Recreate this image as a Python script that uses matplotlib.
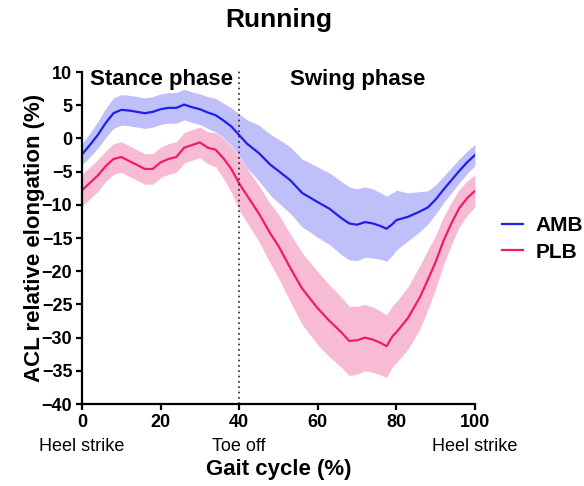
import numpy as np
import matplotlib
matplotlib.use('Agg')
import matplotlib.pyplot as plt

plt.rcParams['font.family'] = ['Liberation Sans', 'DejaVu Sans']

gait = [0, 2, 4, 6, 8, 10, 12, 14, 16, 18, 20, 22, 24, 26, 28, 30, 32, 34, 36, 38,
        40, 42, 45, 48, 50, 53, 56, 60, 63, 66, 68, 70, 72, 74, 76, 77.5, 79, 80,
        83, 86, 88, 90, 92, 94, 96, 98, 100]

# AMB mean and SD
amb_mean = [-2.4, -1.0, 0.5, 2.3, 3.8, 4.3, 4.2, 4.0, 3.8, 4.0, 4.4, 4.6, 4.6, 5.1, 4.7,
            4.4, 3.9, 3.5, 2.7, 1.8, 0.5, -0.8, -2.2, -4.0, -4.9, -6.3, -8.2, -9.6, -10.6,
            -12.0, -12.8, -13.0, -12.6, -12.8, -13.2, -13.6, -12.9, -12.3, -11.8, -11.0,
            -10.4, -9.2, -7.7, -6.3, -4.9, -3.6, -2.5]
amb_sd = [1.6, 1.8, 2.0, 2.2, 2.3, 2.3, 2.3, 2.3, 2.3, 2.3, 2.3, 2.3, 2.3, 2.3, 2.3,
          2.3, 2.4, 2.5, 2.6, 2.8, 3.2, 3.6, 4.2, 4.6, 4.8, 5.0, 5.1, 5.3, 5.4,
          5.5, 5.5, 5.4, 5.3, 5.2, 5.0, 4.9, 4.7, 4.5, 3.6, 3.0,
          2.5, 2.2, 2.0, 1.9, 1.8, 1.7, 1.6]

# PLB mean and SD
plb_mean = [-7.8, -6.7, -5.6, -4.2, -3.1, -2.8, -3.4, -4.0, -4.6, -4.6, -3.6, -3.1, -2.8,
            -1.4, -1.0, -0.6, -1.4, -1.7, -3.0, -4.6, -6.8, -8.6, -11.3, -14.4, -16.2,
            -19.5, -22.6, -25.6, -27.5, -29.2, -30.5, -30.4, -30.0, -30.3, -30.8, -31.3,
            -29.8, -29.2, -27.0, -23.9, -21.3, -18.6, -15.4, -12.8, -10.5, -9.0, -7.9]
plb_sd = [2.4, 2.4, 2.4, 2.3, 2.3, 2.3, 2.3, 2.3, 2.3, 2.3, 2.3, 2.3, 2.3,
          2.3, 2.3, 2.3, 2.4, 2.6, 3.0, 3.5, 4.0, 4.1, 4.2, 4.5, 4.8,
          5.1, 5.4, 5.5, 5.4, 5.3, 5.2, 5.1, 5.0, 4.9, 4.8, 4.7,
          4.6, 4.6, 4.7, 4.8, 4.5, 4.0, 3.6, 3.2, 2.8, 2.6, 2.4]

x_ticks = [0, 20, 40, 60, 80, 100]
y_ticks = [10, 5, 0, -5, -10, -15, -20, -25, -30, -35, -40]
events = [(0, 'Heel strike'), (40, 'Toe off'), (100, 'Heel strike')]

x = np.array(gait)
amb = np.array(amb_mean)
plb = np.array(plb_mean)
amb_s = np.array(amb_sd)
plb_s = np.array(plb_sd)

fig = plt.figure(figsize=(5.84, 4.86), dpi=100)
ax = fig.add_axes([0.1404, 0.1687, 0.6729, 0.6831])

ax.fill_between(x, amb - amb_s, amb + amb_s, color='#7373f2', alpha=0.45, lw=0)
ax.fill_between(x, plb - plb_s, plb + plb_s, color='#f06aa0', alpha=0.45, lw=0)
ax.plot(x, amb, color='#1f1fee', lw=1.6, label='AMB')
ax.plot(x, plb, color='#f01a70', lw=1.6, label='PLB')

ax.vlines(40, -40, 10.6, colors='#222222', linestyles=(0, (1, 2.2)), lw=1.2, clip_on=False)

ax.set_xlim(0, 100)
ax.set_ylim(-40, 10)
ax.set_xticks(x_ticks)
ax.set_yticks(y_ticks)
for s in ['top', 'right']:
    ax.spines[s].set_visible(False)
for s in ['left', 'bottom']:
    ax.spines[s].set_linewidth(1.6)
ax.tick_params(width=1.6, length=4, labelsize=13, pad=3)
for lab in ax.get_xticklabels() + ax.get_yticklabels():
    lab.set_fontweight('bold')

ax.text(2, 8.0, 'Stance phase', fontsize=16, fontweight='bold', va='baseline')
ax.text(53, 8.0, 'Swing phase', fontsize=16, fontweight='bold', va='baseline')

for xe, name in events:
    ax.annotate(name, xy=(xe, 0), xycoords=('data', 'axes fraction'),
                xytext=(0, -34), textcoords='offset points',
                ha='center', va='baseline', fontsize=13)

ax.annotate('Gait cycle (%)', xy=(0.5, 0), xycoords='axes fraction',
            xytext=(0, -51), textcoords='offset points',
            ha='center', va='baseline', fontsize=16, fontweight='bold')
ax.text(-0.122, 0.5, 'ACL relative elongation (%)', transform=ax.transAxes,
        rotation=90, ha='center', va='center', fontsize=16, fontweight='bold')

fig.text(0.477, 1 - 20 / 486, 'Running', ha='center', va='center',
         fontsize=19, fontweight='bold')

leg = ax.legend(loc='center left', bbox_to_anchor=(502 / 584, 1 - 239 / 486),
                bbox_transform=fig.transFigure, frameon=False, borderpad=0,
                borderaxespad=0, handlelength=1.0, handletextpad=0.6,
                labelspacing=0.35, prop={'size': 15, 'weight': 'bold'})

fig.savefig('out.png', dpi=100)
